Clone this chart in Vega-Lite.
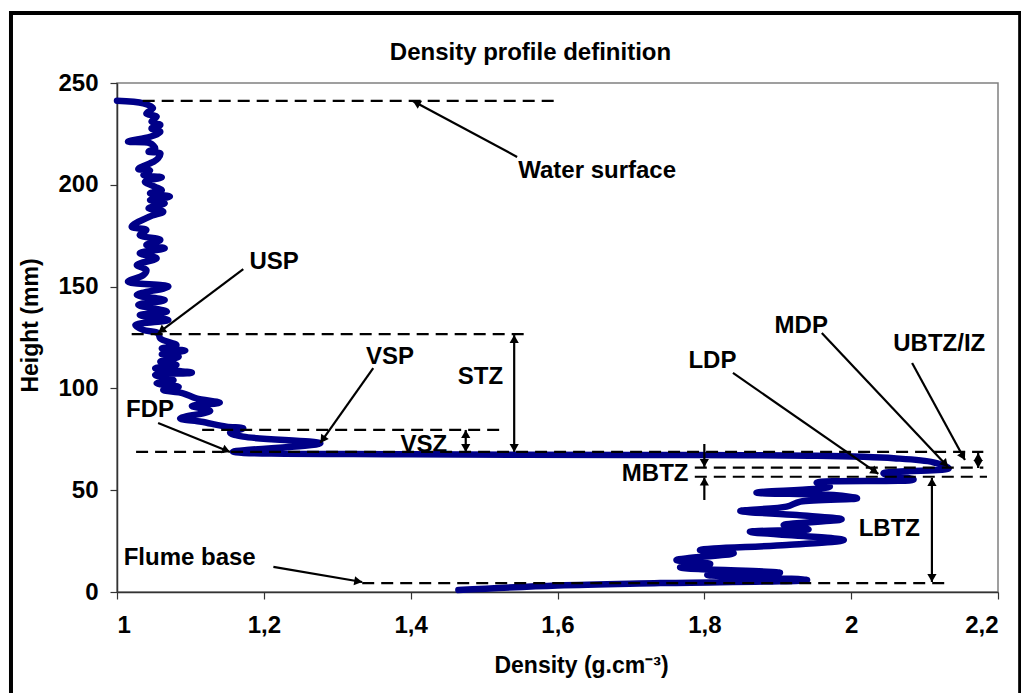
{
  "$schema": "https://vega.github.io/schema/vega-lite/v6.json",
  "width": 881,
  "height": 509,
  "autosize": {"type": "none"},
  "padding": {"left": 117, "top": 83, "right": 23, "bottom": 101},
  "background": "white",
  "title": {
    "text": "Density profile definition",
    "font": "Liberation Sans",
    "fontWeight": "bold",
    "fontSize": 24,
    "color": "black",
    "anchor": "middle",
    "dx": -27,
    "offset": -54
  },
  "config": {
    "view": {"stroke": "#808080", "strokeWidth": 1.5},
    "axis": {
      "grid": false,
      "labelFont": "Liberation Sans",
      "labelFontWeight": "bold",
      "labelFontSize": 24,
      "labelColor": "black",
      "titleFont": "Liberation Sans",
      "titleFontWeight": "bold",
      "titleFontSize": 23,
      "titleColor": "black",
      "domainColor": "#333333",
      "domainWidth": 1.5,
      "tickColor": "#333333",
      "tickSize": 7,
      "tickWidth": 1.2
    }
  },
  "datasets": {
    "frame": [{"part": "chart area"}],
    "profile": [
      {"density": 1.000, "height": 241.3}, {"density": 1.036, "height": 240.0}, {"density": 1.049, "height": 237.7},
      {"density": 1.040, "height": 235.0}, {"density": 1.054, "height": 233.5}, {"density": 1.047, "height": 231.0},
      {"density": 1.059, "height": 229.4}, {"density": 1.047, "height": 227.7}, {"density": 1.059, "height": 226.0},
      {"density": 1.045, "height": 223.6}, {"density": 1.015, "height": 221.2}, {"density": 1.045, "height": 220.4},
      {"density": 1.052, "height": 217.9}, {"density": 1.043, "height": 216.3}, {"density": 1.059, "height": 215.5},
      {"density": 1.056, "height": 213.0}, {"density": 1.050, "height": 211.4}, {"density": 1.029, "height": 207.8},
      {"density": 1.045, "height": 207.0}, {"density": 1.036, "height": 204.8}, {"density": 1.061, "height": 203.7},
      {"density": 1.038, "height": 201.5}, {"density": 1.052, "height": 199.0}, {"density": 1.061, "height": 197.4},
      {"density": 1.045, "height": 195.8}, {"density": 1.072, "height": 194.2}, {"density": 1.045, "height": 192.5},
      {"density": 1.065, "height": 190.9}, {"density": 1.043, "height": 188.5}, {"density": 1.063, "height": 186.8},
      {"density": 1.044, "height": 184.3}, {"density": 1.020, "height": 179.4}, {"density": 1.040, "height": 177.8},
      {"density": 1.031, "height": 175.3}, {"density": 1.059, "height": 172.9}, {"density": 1.040, "height": 170.4},
      {"density": 1.065, "height": 168.8}, {"density": 1.031, "height": 166.4}, {"density": 1.054, "height": 163.9},
      {"density": 1.027, "height": 160.6}, {"density": 1.040, "height": 158.2}, {"density": 1.036, "height": 155.7},
      {"density": 1.015, "height": 152.4}, {"density": 1.070, "height": 150.0}, {"density": 1.027, "height": 145.9},
      {"density": 1.065, "height": 143.4}, {"density": 1.029, "height": 141.0}, {"density": 1.068, "height": 137.7},
      {"density": 1.031, "height": 136.0}, {"density": 1.070, "height": 133.6}, {"density": 1.025, "height": 131.1},
      {"density": 1.036, "height": 128.7}, {"density": 1.056, "height": 127.1}, {"density": 1.059, "height": 124.5},
      {"density": 1.081, "height": 121.3}, {"density": 1.061, "height": 119.6}, {"density": 1.093, "height": 118.6},
      {"density": 1.061, "height": 116.8}, {"density": 1.084, "height": 115.6}, {"density": 1.059, "height": 113.1},
      {"density": 1.081, "height": 111.5}, {"density": 1.052, "height": 109.9}, {"density": 1.102, "height": 107.7},
      {"density": 1.052, "height": 106.6}, {"density": 1.077, "height": 104.1}, {"density": 1.054, "height": 102.5},
      {"density": 1.084, "height": 100.8}, {"density": 1.063, "height": 99.2}, {"density": 1.090, "height": 97.6},
      {"density": 1.108, "height": 95.1}, {"density": 1.140, "height": 93.0}, {"density": 1.102, "height": 91.4},
      {"density": 1.127, "height": 88.9}, {"density": 1.086, "height": 85.3}, {"density": 1.115, "height": 83.6},
      {"density": 1.149, "height": 81.2}, {"density": 1.172, "height": 80.4}, {"density": 1.154, "height": 78.2},
      {"density": 1.172, "height": 76.3}, {"density": 1.277, "height": 73.0}, {"density": 1.158, "height": 68.9},
      {"density": 1.400, "height": 67.6}, {"density": 1.700, "height": 67.3}, {"density": 1.950, "height": 66.9},
      {"density": 2.058, "height": 65.7}, {"density": 2.112, "height": 63.7}, {"density": 2.133, "height": 60.8},
      {"density": 2.044, "height": 58.3}, {"density": 2.085, "height": 55.2}, {"density": 1.953, "height": 53.7},
      {"density": 1.971, "height": 51.7}, {"density": 1.871, "height": 48.8}, {"density": 1.976, "height": 47.6},
      {"density": 2.008, "height": 46.0}, {"density": 1.931, "height": 44.4}, {"density": 1.912, "height": 41.9},
      {"density": 1.849, "height": 39.8}, {"density": 1.926, "height": 37.8}, {"density": 1.987, "height": 35.7},
      {"density": 1.908, "height": 32.9}, {"density": 1.942, "height": 30.8}, {"density": 1.862, "height": 29.6},
      {"density": 1.990, "height": 25.5}, {"density": 1.912, "height": 23.1}, {"density": 1.794, "height": 20.6},
      {"density": 1.840, "height": 19.0}, {"density": 1.762, "height": 15.7}, {"density": 1.808, "height": 13.8},
      {"density": 1.767, "height": 12.1}, {"density": 1.903, "height": 9.5}, {"density": 1.804, "height": 8.3},
      {"density": 1.940, "height": 5.9}, {"density": 1.740, "height": 4.4}, {"density": 1.600, "height": 3.2},
      {"density": 1.465, "height": 1.0}
    ],
    "levels": [
      {"name": "Water surface", "from": 1.035, "to": 1.595, "height": 241.2},
      {"name": "USP", "from": 1.020, "to": 1.560, "height": 126.7},
      {"name": "VSP", "from": 1.116, "to": 1.530, "height": 79.6},
      {"name": "FDP", "from": 1.026, "to": 2.180, "height": 68.8},
      {"name": "MDP", "from": 1.787, "to": 2.180, "height": 61.1},
      {"name": "LDP", "from": 1.787, "to": 2.185, "height": 56.6},
      {"name": "Flume base", "from": 1.334, "to": 2.135, "height": 4.4}
    ],
    "arrows": [
      {"name": "Water surface", "x": 1.545, "y": 213.7, "x2": 1.403, "y2": 241.2},
      {"name": "USP", "x": 1.172, "y": 158.6, "x2": 1.056, "y2": 127.2},
      {"name": "VSP", "x": 1.349, "y": 110.0, "x2": 1.277, "y2": 73.2},
      {"name": "FDP", "x": 1.056, "y": 83.0, "x2": 1.154, "y2": 68.8},
      {"name": "STZ", "x": 1.541, "y": 126.2, "x2": 1.541, "y2": 68.8},
      {"name": "VSZ", "x": 1.475, "y": 79.6, "x2": 1.475, "y2": 68.8},
      {"name": "MBTZ top", "x": 1.800, "y": 72.7, "x2": 1.800, "y2": 61.4},
      {"name": "MBTZ bottom", "x": 1.800, "y": 45.2, "x2": 1.800, "y2": 56.2},
      {"name": "UBTZ", "x": 2.173, "y": 68.3, "x2": 2.173, "y2": 60.9},
      {"name": "LDP", "x": 1.839, "y": 107.6, "x2": 2.037, "y2": 58.0},
      {"name": "MDP", "x": 1.960, "y": 127.2, "x2": 2.132, "y2": 61.4},
      {"name": "UBTZ/IZ", "x": 2.083, "y": 112.5, "x2": 2.155, "y2": 64.8},
      {"name": "LBTZ", "x": 2.110, "y": 56.0, "x2": 2.110, "y2": 4.9},
      {"name": "Flume base", "x": 1.213, "y": 12.3, "x2": 1.334, "y2": 4.9}
    ],
    "heads": [
      {"fx": 1.545, "fy": 213.7, "x": 1.403, "y": 241.2},
      {"fx": 1.172, "fy": 158.6, "x": 1.056, "y": 127.2},
      {"fx": 1.349, "fy": 110.0, "x": 1.277, "y": 73.2},
      {"fx": 1.056, "fy": 83.0, "x": 1.154, "y": 68.8},
      {"fx": 1.541, "fy": 100.0, "x": 1.541, "y": 126.2},
      {"fx": 1.541, "fy": 100.0, "x": 1.541, "y": 68.8},
      {"fx": 1.475, "fy": 74.0, "x": 1.475, "y": 79.6},
      {"fx": 1.475, "fy": 74.0, "x": 1.475, "y": 68.8},
      {"fx": 1.800, "fy": 72.7, "x": 1.800, "y": 61.4},
      {"fx": 1.800, "fy": 45.2, "x": 1.800, "y": 56.2},
      {"fx": 2.173, "fy": 64.6, "x": 2.173, "y": 68.3},
      {"fx": 2.173, "fy": 64.6, "x": 2.173, "y": 60.9},
      {"fx": 1.839, "fy": 107.6, "x": 2.037, "y": 58.0},
      {"fx": 1.960, "fy": 127.2, "x": 2.132, "y": 61.4},
      {"fx": 2.083, "fy": 112.5, "x": 2.155, "y": 64.8},
      {"fx": 2.110, "fy": 30.0, "x": 2.110, "y": 56.0},
      {"fx": 2.110, "fy": 30.0, "x": 2.110, "y": 4.9},
      {"fx": 1.213, "fy": 12.3, "x": 1.334, "y": 4.9}
    ],
    "labels": [
      {"label": "Water surface", "x": 1.654, "y": 206.8},
      {"label": "USP", "x": 1.214, "y": 162.1},
      {"label": "VSP", "x": 1.372, "y": 115.4},
      {"label": "FDP", "x": 1.045, "y": 89.4},
      {"label": "STZ", "x": 1.495, "y": 105.6},
      {"label": "VSZ", "x": 1.418, "y": 72.4},
      {"label": "MBTZ", "x": 1.733, "y": 58.0},
      {"label": "LDP", "x": 1.811, "y": 113.5},
      {"label": "MDP", "x": 1.932, "y": 130.6},
      {"label": "UBTZ/IZ", "x": 2.120, "y": 121.8},
      {"label": "LBTZ", "x": 2.052, "y": 30.9},
      {"label": "Flume base", "x": 1.099, "y": 16.7}
    ]
  },
  "encoding": {
    "x": {
      "type": "quantitative",
      "scale": {"domain": [1, 2.2], "nice": false, "zero": false},
      "axis": {
        "title": "Density (g.cm⁻³)",
        "values": [1, 1.2, 1.4, 1.6, 1.8, 2, 2.2],
        "labelExpr": "replace(toString(round(datum.value * 10) / 10), '.', ',')",
        "labelPadding": 14,
        "titleX": 464,
        "titleY": 73,
        "titleBaseline": "middle"
      }
    },
    "y": {
      "type": "quantitative",
      "scale": {"domain": [0, 250], "nice": false, "zero": false},
      "axis": {
        "title": "Height (mm)",
        "values": [0, 50, 100, 150, 200, 250],
        "labelPadding": 12,
        "titleX": -87,
        "titleY": 242,
        "titleBaseline": "middle"
      }
    }
  },
  "layer": [
    {
      "data": {"name": "frame"},
      "mark": {"type": "rect", "filled": false, "stroke": "black", "strokeWidth": 4, "clip": false, "opacity": 1, "strokeOpacity": 1},
      "encoding": {
        "x": {"datum": 0.8556, "type": "quantitative"},
        "x2": {"datum": 2.2302},
        "y": {"datum": 284.4, "type": "quantitative"},
        "y2": {"datum": -53}
      }
    },
    {
      "data": {"name": "labels"},
      "mark": {"type": "text", "font": "Liberation Sans", "fontWeight": "bold", "fontSize": 24, "color": "black", "align": "center", "baseline": "middle"},
      "encoding": {
        "x": {"field": "x", "type": "quantitative"},
        "y": {"field": "y", "type": "quantitative"},
        "text": {"field": "label"}
      }
    },
    {
      "data": {"name": "profile"},
      "mark": {"type": "line", "color": "#000088", "strokeWidth": 6.5, "interpolate": "catmull-rom", "strokeCap": "round", "strokeJoin": "round"},
      "encoding": {
        "x": {"field": "density", "type": "quantitative"},
        "y": {"field": "height", "type": "quantitative"},
        "order": {"field": "height", "sort": "descending"}
      }
    },
    {
      "data": {"name": "levels"},
      "mark": {"type": "rule", "color": "black", "strokeWidth": 2.2, "strokeDash": [12, 7]},
      "encoding": {
        "x": {"field": "from", "type": "quantitative"},
        "x2": {"field": "to"},
        "y": {"field": "height", "type": "quantitative"}
      }
    },
    {
      "data": {"name": "arrows"},
      "mark": {"type": "rule", "color": "black", "strokeWidth": 2.2},
      "encoding": {
        "x": {"field": "x", "type": "quantitative"},
        "x2": {"field": "x2"},
        "y": {"field": "y", "type": "quantitative"},
        "y2": {"field": "y2"}
      }
    },
    {
      "data": {"name": "heads"},
      "transform": [
        {"calculate": "atan2((datum.x - datum.fx) * 734, (datum.y - datum.fy) * 2.036)", "as": "a"},
        {"calculate": "datum.a * 180 / PI", "as": "angle"},
        {"calculate": "datum.x - 4 * sin(datum.a) / 734", "as": "tx"},
        {"calculate": "datum.y - 4 * cos(datum.a) / 2.036", "as": "ty"}
      ],
      "mark": {"type": "point", "shape": "triangle-up", "filled": true, "color": "black", "size": 85, "opacity": 1},
      "encoding": {
        "x": {"field": "tx", "type": "quantitative"},
        "y": {"field": "ty", "type": "quantitative"},
        "angle": {"field": "angle", "type": "quantitative", "scale": null}
      }
    }
  ]
}
